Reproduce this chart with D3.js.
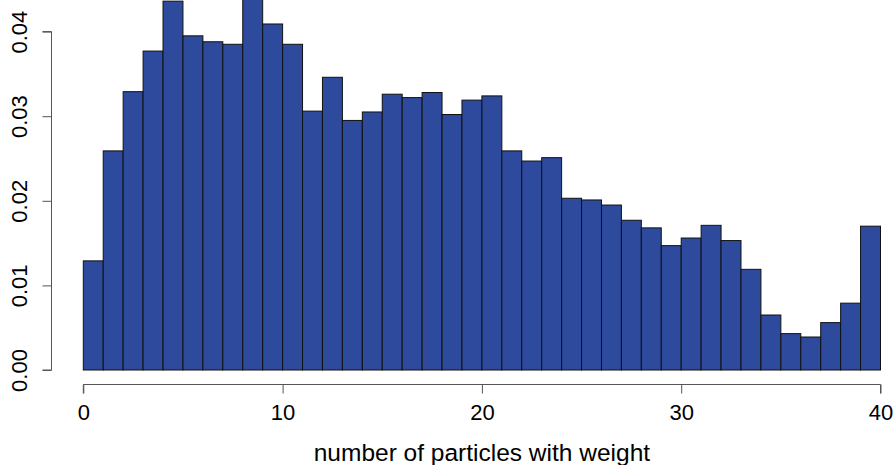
<!DOCTYPE html>
<html>
<head>
<meta charset="utf-8">
<script src="https://cdn.jsdelivr.net/npm/d3@7"></script>
<style>
  body { margin: 0; background: #fff; }
  svg { display: block; font-family: "Liberation Sans", Arial, sans-serif; }
</style>
</head>
<body>
<svg id="chart" width="894" height="465"></svg>
<script>
// histogram bins (width 1) and density values
const binStarts = d3.range(0, 40);
const density = [
  0.0129, 0.0259, 0.0329, 0.0377, 0.0436, 0.0395, 0.0388, 0.0385, 0.0442, 0.0409,
  0.0385, 0.0306, 0.0346, 0.0295, 0.0305, 0.0326, 0.0322, 0.0328, 0.0302, 0.0319,
  0.0324, 0.0259, 0.0247, 0.0251, 0.0203, 0.0201, 0.0195, 0.0177, 0.0168, 0.0147,
  0.0156, 0.0171, 0.0153, 0.0119, 0.0065, 0.0043, 0.0039, 0.0056, 0.0079, 0.0170
];
const xTicks = [0, 10, 20, 30, 40];
const yTicks = [0, 0.01, 0.02, 0.03, 0.04];
const xTitle = "number of particles with weight";

const bins = binStarts.map((x0, i) => ({x0: x0, x1: x0 + 1, v: density[i]}));

const svg = d3.select("#chart");

const x = d3.scaleLinear().domain([0, 40]).range([83.3, 880.5]);
const y = d3.scaleLinear().domain([0, 0.04]).range([370, 31.6]);

const axisColor = "#555";

// bars
svg.append("g")
    .selectAll("rect")
    .data(bins)
    .join("rect")
    .attr("x", d => x(d.x0))
    .attr("y", d => y(d.v))
    .attr("width", d => x(d.x1) - x(d.x0))
    .attr("height", d => y(0) - y(d.v))
    .attr("fill", "#2d4a9c")
    .attr("stroke", "#111")
    .attr("stroke-width", 1);

// x axis
const xAxis = svg.append("g")
    .attr("transform", "translate(0,384.5)")
    .call(d3.axisBottom(x).tickValues(xTicks).tickFormat(d3.format("d")).tickSize(9).tickPadding(11));
xAxis.select(".domain").attr("stroke", axisColor).attr("d", `M${x(0)},9V0H${x(40)}V9`);
xAxis.selectAll(".tick line").attr("stroke", axisColor);
xAxis.selectAll(".tick text")
    .attr("fill", "#000")
    .attr("font-size", 22)
    .attr("font-family", "Liberation Sans, Arial, sans-serif");

// y axis
const yAxis = svg.append("g")
    .attr("transform", "translate(51.5,0)")
    .call(d3.axisLeft(y).tickValues(yTicks).tickFormat(d3.format(".2f")).tickSize(9));
yAxis.select(".domain").attr("stroke", axisColor).attr("d", `M-9,${y(0)}H0V${y(0.04)}H-9`);
yAxis.selectAll(".tick line").attr("stroke", axisColor);
yAxis.selectAll(".tick text")
    .attr("fill", "#000")
    .attr("font-size", 22)
    .attr("font-family", "Liberation Sans, Arial, sans-serif")
    .attr("x", null)
    .attr("dy", null)
    .attr("text-anchor", "middle")
    .attr("transform", "translate(-24.5,0) rotate(-90)");

// x title
svg.append("text")
    .attr("x", (x(0) + x(40)) / 2)
    .attr("y", 461)
    .attr("text-anchor", "middle")
    .attr("font-size", 24.5)
    .attr("fill", "#000")
    .text(xTitle);
</script>
</body>
</html>
